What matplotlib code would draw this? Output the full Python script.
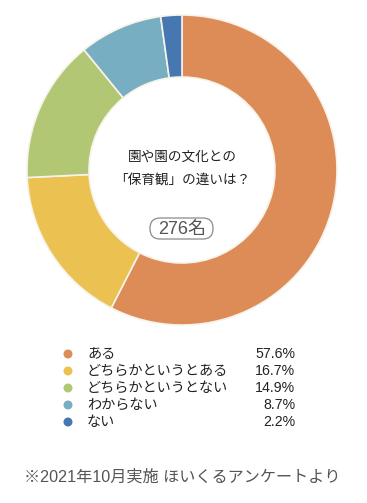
import matplotlib
matplotlib.use('Agg')
import matplotlib.pyplot as plt
from matplotlib.patches import FancyBboxPatch

plt.rcParams['font.family'] = ['Liberation Sans', 'Noto Sans CJK JP', 'DejaVu Sans']

labels = ['ある', 'どちらかというとある', 'どちらかというとない', 'わからない', 'ない']
shares = [57.6, 16.7, 14.9, 8.7, 2.2]
colors = ['#DE8C57', '#EBC251', '#B2C774', '#78AEC2', '#4677B0']
total_n = 276
title_lines = ['園や園の文化との', '「保育観」の違いは？']
footer = '※2021年10月実施 ほいくるアンケートより'

W, H = 367, 503
fig = plt.figure(figsize=(W / 100, H / 100), dpi=100)

# donut, centre (182,170) px, radius 155 px
cx, cy, r = 182, 170, 155
ax = fig.add_axes([(cx - r) / W, (H - cy - r) / H, 2 * r / W, 2 * r / H])
ax.pie(shares, colors=colors, startangle=90, counterclock=False, radius=1,
       wedgeprops=dict(width=0.4, edgecolor='#f7f3ea', linewidth=1.2))
ax.set_xlim(-1, 1)
ax.set_ylim(-1, 1)
ax.set_aspect('equal')
ax.axis('off')

# overlay axes in pixel coordinates for the texts
ov = fig.add_axes([0, 0, 1, 1])
ov.set_xlim(0, W)
ov.set_ylim(H, 0)
ov.axis('off')

ov.text(cx, 157, title_lines[0], ha='center', va='center', fontsize=9.8, color='#222222')
ov.text(cx, 180, title_lines[1], ha='center', va='center', fontsize=9.8, color='#222222')

# pill around the respondent count (about 63x21 px)
pill = FancyBboxPatch((160, 228), 43, 1, boxstyle='round,pad=10,rounding_size=10',
                      fc='white', ec='#8a8a8a', lw=0.9)
ov.add_patch(pill)
ov.text(cx, 229, f'{total_n}名', ha='center', va='center', fontsize=13, color='#555555')

# legend rows
row_y = [354, 371, 388, 405, 422]
for y, lab, val, c in zip(row_y, labels, shares, colors):
    ov.scatter([68], [y], s=42, color=c, edgecolors='none')
    ov.text(87, y, lab, ha='left', va='center', fontsize=10.2, color='#222222')
    ov.text(295, y, f'{val:.1f}%', ha='right', va='center', fontsize=10.2, color='#222222')

ov.text(cx, 477, footer, ha='center', va='center', fontsize=11.6, color='#555555')

fig.savefig('out.png', dpi=100)
plt.close()
